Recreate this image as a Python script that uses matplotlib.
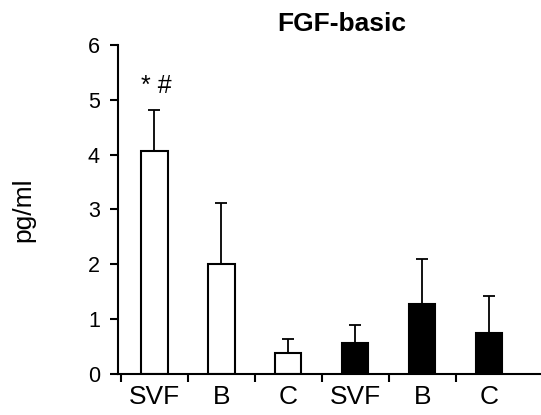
import matplotlib
matplotlib.use("Agg")
from matplotlib import pyplot as plt
import numpy as np

plt.rcParams["font.family"] = ["Liberation Sans", "DejaVu Sans"]

# data
categories = ["SVF", "B", "C", "SVF", "B", "C"]
means = [4.07, 2.00, 0.38, 0.56, 1.28, 0.75]
errors = [0.75, 1.12, 0.26, 0.34, 0.82, 0.67]
colors = ["white", "white", "white", "black", "black", "black"]

fig = plt.figure(figsize=(5.41, 4.15), dpi=100)
ax = fig.add_axes([0.218, 0.099, 0.782, 0.793])

x = np.arange(len(categories))
ax.bar(x, means, width=0.39, color=colors, edgecolor="black", linewidth=1.5, zorder=2)
ax.errorbar(x, means, yerr=[np.zeros(len(errors)), errors], fmt="none",
            ecolor="black", elinewidth=1.3, capsize=4, capthick=1.3, zorder=1)

ax.set_xlim(-0.545, 5.77)
ax.set_ylim(0, 6)
ax.set_yticks(range(7))
ax.tick_params(axis="y", labelsize=15.5, width=1.5, length=6, pad=7)

# boundary ticks between categories, labels centred without ticks
ax.set_xticks(x - 0.5)
ax.set_xticklabels([])
ax.set_xticks(x, minor=True)
ax.set_xticklabels(categories, minor=True, fontsize=19)
ax.tick_params(axis="x", which="major", width=1.5, length=6)
ax.tick_params(axis="x", which="minor", length=0, pad=8)

for s in ["top", "right"]:
    ax.spines[s].set_visible(False)
ax.spines["left"].set_linewidth(1.5)
ax.spines["bottom"].set_linewidth(1.5)

ax.set_ylabel("pg/ml", fontsize=19)
ax.yaxis.set_label_coords(-0.196, 0.5)

fig.text(0.631, 0.97, "FGF-basic", fontsize=19, fontweight="bold", ha="center", va="top")

ax.text(0.03, 5.25, "* #", fontsize=18, ha="center", va="center")

plt.savefig("out.png")
